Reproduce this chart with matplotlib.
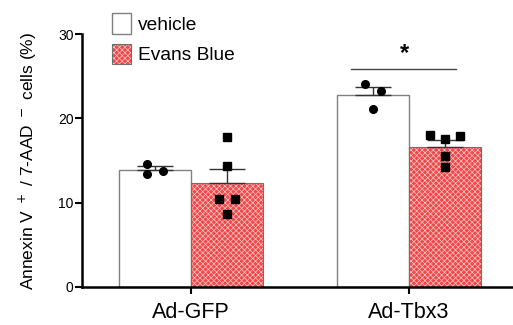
import matplotlib
matplotlib.use("Agg")
import matplotlib.pyplot as plt
import numpy as np
from matplotlib.patches import Patch
from matplotlib.legend_handler import HandlerTuple

plt.rcParams['font.family'] = ['Liberation Sans', 'DejaVu Sans']
plt.rcParams['hatch.linewidth'] = 0.5

groups = ["Ad-GFP", "Ad-Tbx3"]
series = ["vehicle", "Evans Blue"]
means = {"vehicle": [13.9, 22.8], "Evans Blue": [12.3, 16.6]}
sem = {"vehicle": [0.5, 0.9], "Evans Blue": [1.66, 0.8]}
points = {
    "vehicle": [[14.6, 13.4, 13.75], [24.1, 23.2, 21.1]],
    "Evans Blue": [[17.8, 14.3, 10.4, 10.4, 8.6], [18.0, 17.6, 17.9, 15.5, 14.2]],
}
jitter = {
    "vehicle": [[-0.037, -0.037, 0.034], [-0.037, 0.036, 0.0]],
    "Evans Blue": [[0.0, 0.0, -0.037, 0.037, 0.0], [-0.071, 0.0, 0.071, 0.0, 0.0]],
}
sig_label = "*"
yticks = [0, 10, 20, 30]

red = '#f04848'
hatch_col = '#ffc8c8'
fig = plt.figure(figsize=(5.13, 3.25), dpi=100)
ax = fig.add_axes([0.16, 0.117, 0.84, 0.778])

x = np.arange(len(groups))
w = 0.33
offs = {"vehicle": -w / 2, "Evans Blue": w / 2}
markers = {"vehicle": 'o', "Evans Blue": 's'}
msize = {"vehicle": 5.5, "Evans Blue": 6.0}

for s in series:
    pos = x + offs[s]
    if s == "vehicle":
        ax.bar(pos, means[s], width=w, color='white', edgecolor='#808080', linewidth=1.0, zorder=2)
    else:
        ax.bar(pos, means[s], width=w, color=red, edgecolor=hatch_col, hatch='xxxxxx', linewidth=0, zorder=2)
        ax.bar(pos, means[s], width=w, fill=False, edgecolor='#707070', linewidth=0.8, zorder=2.1)
    ax.errorbar(pos, means[s], yerr=[np.zeros(len(pos)), sem[s]], fmt='none', ecolor='#333333',
                elinewidth=1.0, capsize=13, capthick=1.0, zorder=3)
    for i, p in enumerate(pos):
        ax.plot(p + np.array(jitter[s][i]), points[s][i], linestyle='none', marker=markers[s],
                color='black', markersize=msize[s], zorder=4)

# significance
ax.plot([x[1] - 0.265, x[1] + 0.215], [25.9, 25.9], color='#444444', linewidth=1.0, zorder=3)
ax.text(x[1] - 0.02, 27.7, sig_label, ha='center', va='center', fontsize=17, fontweight='bold')

ax.set_ylim(0, 30)
ax.set_xlim(-0.5, 1.477)
ax.set_yticks(yticks)
ax.set_yticklabels([str(t) for t in yticks], fontsize=10)
ax.set_xticks(x)
ax.set_xticklabels(groups, fontsize=15.5)
ax.spines['top'].set_visible(False)
ax.spines['right'].set_visible(False)
ax.spines['left'].set_linewidth(1.8)
ax.spines['bottom'].set_linewidth(1.8)
ax.tick_params(axis='both', direction='out', length=5, width=1.5, color='black')
ax.tick_params(axis='y', pad=1)
ax.tick_params(axis='x', pad=6)
ax.set_ylabel(r'Annexin V $^+$ / 7-AAD $^-$ cells (%)', fontsize=12.5, labelpad=14)

h1 = Patch(facecolor='white', edgecolor='#808080', linewidth=1.0)
h2a = Patch(facecolor=red, edgecolor=hatch_col, hatch='xxxxxx', linewidth=0)
h2b = Patch(fill=False, edgecolor='#707070', linewidth=0.8)
leg = fig.legend([h1, (h2a, h2b)], series, loc='upper left', bbox_to_anchor=(0.193, 1.0),
                 frameon=False, fontsize=13.8, handlelength=0.95, handleheight=1.25,
                 handletextpad=0.4, labelspacing=0.5, borderaxespad=0.3,
                 handler_map={tuple: HandlerTuple(ndivide=1)})

fig.savefig('out.png', dpi=100)
